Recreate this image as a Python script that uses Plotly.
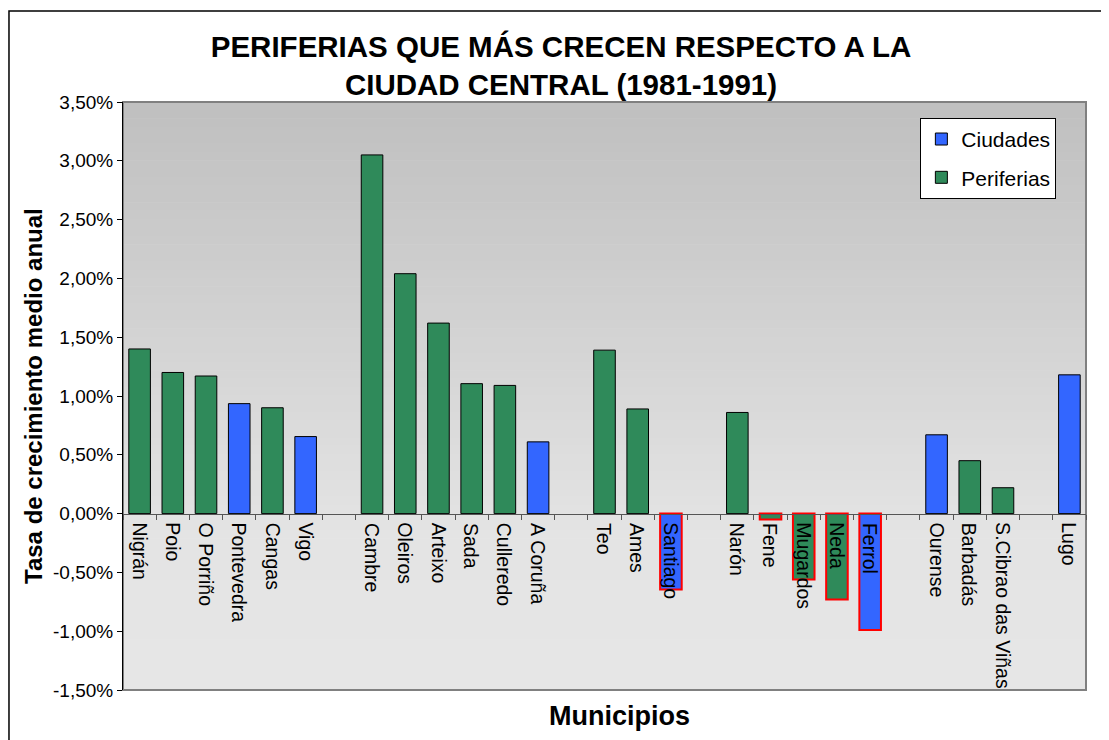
import plotly.graph_objects as go

# ---------------- data ----------------
municipios = ["Nigrán", "Poio", "O Porriño", "Pontevedra", "Cangas", "Vigo", None,
              "Cambre", "Oleiros", "Arteixo", "Sada", "Culleredo", "A Coruña", None,
              "Teo", "Ames", "Santiago", None,
              "Narón", "Fene", "Mugardos", "Neda", "Ferrol", None,
              "Ourense", "Barbadás", "S.Cibrao das Viñas", None,
              "Lugo"]
tasa = [0.0140, 0.0120, 0.0117, 0.00935, 0.0090, 0.00655, None,
        0.0305, 0.0204, 0.0162, 0.01105, 0.0109, 0.0061, None,
        0.0139, 0.0089, -0.00645, None,
        0.0086, -0.0005, -0.0056, -0.0073, -0.0099, None,
        0.0067, 0.0045, 0.0022, None,
        0.0118]
tipo = ["P", "P", "P", "C", "P", "C", None,
        "P", "P", "P", "P", "P", "C", None,
        "P", "P", "C", None,
        "P", "P", "P", "P", "C", None,
        "C", "P", "P", None,
        "C"]
y_ticks = [-0.015, -0.01, -0.005, 0, 0.005, 0.01, 0.015, 0.02, 0.025, 0.03, 0.035]
y_ticktext = [f"{v * 100:.2f}%".replace(".", ",") for v in y_ticks]

titulo = "PERIFERIAS QUE MÁS CRECEN RESPECTO A LA<br>CIUDAD CENTRAL (1981-1991)"
series = {"C": ("Ciudades", "#3366FF"), "P": ("Periferias", "#2F8A5A")}

FONT = "Arial, Liberation Sans, sans-serif"

# unique category keys (gaps get blank keys)
keys = []
g = 0
for m in municipios:
    if m is None:
        g += 1
        keys.append(" " * g)
    else:
        keys.append(m)

fig = go.Figure()
for code, (name, color) in series.items():
    xs = [k for k, t in zip(keys, tipo) if t == code]
    ys = [v for v, t in zip(tasa, tipo) if t == code]
    fig.add_trace(go.Bar(
        x=xs, y=ys, name=name, legendgroup=name,
        width=0.65,
        marker=dict(color=color,
                    line=dict(color=["#FF0000" if v < 0 else "#000000" for v in ys],
                              width=[2 if v < 0 else 1 for v in ys])),
    ))

# background gradient strips
N = 70
shapes = []
for i in range(N):
    t = i / N  # from top
    if t < 0.72:
        c = int(192 + (228 - 192) * (t / 0.72))
    else:
        c = int(228 + (231 - 228) * ((t - 0.72) / 0.28))
    shapes.append(dict(type="rect", xref="x domain", yref="y domain",
                       x0=0, x1=1, y0=1 - (i + 1) / N, y1=1 - i / N + 0.001,
                       fillcolor=f"rgb({c},{c},{c})", line=dict(width=0), layer="below"))
# plot area border
shapes.append(dict(type="rect", xref="x domain", yref="y domain", x0=0, x1=1, y0=0, y1=1,
                   line=dict(color="#808080", width=2), layer="below"))
# outer chart border
shapes.append(dict(type="rect", xref="paper", yref="paper", x0=-0.1184, x1=1.2, y0=-0.3, y1=1.1548,
                   line=dict(color="#000000", width=1.5), fillcolor="rgba(0,0,0,0)", layer="below"))

annotations = []
for k, m in zip(keys, municipios):
    if m is None:
        continue
    annotations.append(dict(x=k, y=0, xref="x", yref="y", text=m, showarrow=False,
                            textangle=90, xanchor="center", yanchor="top", yshift=-7,
                            font=dict(family=FONT, size=19.5, color="#000")))
annotations.append(dict(x=0.516, y=-0.044, xref="paper", yref="paper", text="<b>Municipios</b>",
                        showarrow=False, xanchor="center", yanchor="middle",
                        font=dict(family=FONT, size=27, color="#000")))
annotations.append(dict(x=-0.0935, y=0.5, xref="paper", yref="paper",
                        text="<b>Tasa de crecimiento medio anual</b>", showarrow=False,
                        textangle=-90, xanchor="center", yanchor="middle",
                        font=dict(family=FONT, size=24, color="#000")))

fig.update_layout(
    width=1109, height=740,
    margin=dict(l=115, r=31, t=94, b=58),
    paper_bgcolor="white", plot_bgcolor="#e6e6e6",
    separators=",.",
    barmode="overlay",
    title=dict(text=f"<b>{titulo}</b>", x=553 / 1109, xref="container", xanchor="center",
               y=1 - 49 / 740, yref="container", yanchor="middle",
               font=dict(family=FONT, size=29.5, color="#000")),
    font=dict(family=FONT, color="#000"),
    showlegend=True,
    legend=dict(x=0.828, y=0.973, xanchor="left", yanchor="top", bgcolor="white",
                bordercolor="#000", borderwidth=1, font=dict(family=FONT, size=21),
                traceorder="grouped", tracegroupgap=8),
    xaxis=dict(type="category", categoryorder="array", categoryarray=keys,
               range=[-0.5, len(keys) - 0.5],
               anchor="free", position=0.3, showline=True, linecolor="#555", linewidth=1,
               ticks="outside", ticklen=5, tickcolor="#555", tickson="boundaries",
               showticklabels=False, showgrid=False, zeroline=False),
    yaxis=dict(range=[-0.015, 0.035], tickvals=y_ticks, ticktext=y_ticktext,
               showline=True, linecolor="#000", linewidth=1, ticks="outside", ticklen=5,
               tickcolor="#000", showgrid=False, zeroline=False,
               tickfont=dict(family=FONT, size=19, color="#000")),
    shapes=shapes, annotations=annotations,
)

fig.write_html("out.html")
